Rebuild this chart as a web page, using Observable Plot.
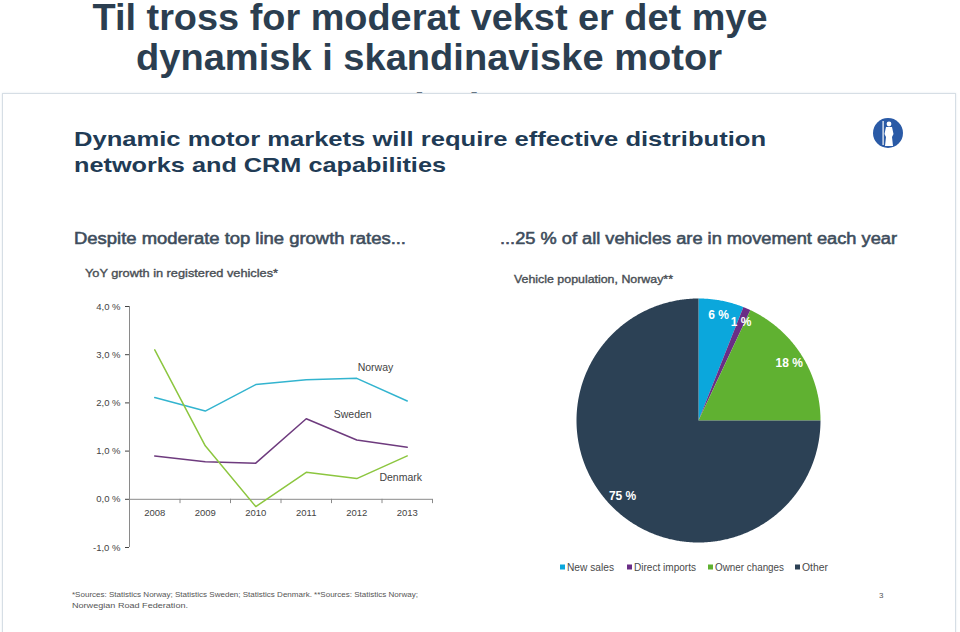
<!DOCTYPE html>
<html>
<head>
<meta charset="utf-8">
<script src="https://cdn.jsdelivr.net/npm/d3@7"></script>
<script src="https://cdn.jsdelivr.net/npm/@observablehq/plot@0.6"></script>
<style>
  html, body { margin: 0; padding: 0; background: #fff; }
  body { width: 960px; height: 632px; position: relative; overflow: hidden; font-family: "Liberation Sans", Arial, sans-serif; }
  .abs { position: absolute; }
  #titles { left: 0; top: 0; z-index: 0; }
  #slide { left: 2px; top: 93px; width: 952px; height: 545px; background: #fff; border: 1px solid #d6dee5; box-shadow: 0 0 2px #e3eaef; z-index: 1; }
  #overlay { left: 0; top: 0; z-index: 2; pointer-events: none; }
  #lineChart { left: 60px; top: 290px; z-index: 3; }
  #pieChart { left: 560px; top: 290px; z-index: 3; }
</style>
</head>
<body>
<div id="titles" class="abs"></div>
<div id="slide" class="abs"></div>
<div id="overlay" class="abs"></div>
<div id="lineChart" class="abs"></div>
<div id="pieChart" class="abs"></div>
<script>
// ---------- data ----------
const years = [2008, 2009, 2010, 2011, 2012, 2013];
const norway = [2.11, 1.83, 2.38, 2.48, 2.51, 2.04];
const sweden = [0.90, 0.78, 0.75, 1.67, 1.23, 1.08];
const denmark = [3.10, 1.11, -0.15, 0.56, 0.43, 0.90];
const countries = ["Norway", "Sweden", "Denmark"];
const countryColors = ["#33b4cf", "#6e3b7e", "#8cc63f"];
const yTicks = [-1, 0, 1, 2, 3, 4];
const labelYears = [2012.37, 2011.92, 2012.87];
const labelValues = [2.73, 1.76, 0.45];

const pieNames = ["New sales", "Direct imports", "Owner changes", "Other"];
const pieShares = [6, 1, 18, 75];
const pieColors = ["#0ba7dc", "#6a2d86", "#60b131", "#2c4155"];

const titleLines = ["Til tross for moderat vekst er det mye", "dynamisk i skandinaviske motor", "markeder"];
const headerLines = ["Dynamic motor markets will require effective distribution", "networks and CRM capabilities"];
const leftHeading = "Despite moderate top line growth rates...";
const rightHeading = "...25 % of all vehicles are in movement each year";
const leftSub = "YoY growth in registered vehicles*";
const rightSub = "Vehicle population, Norway**";
const footLines = ["*Sources: Statistics Norway; Statistics Sweden; Statistics Denmark. **Sources: Statistics Norway;", "Norwegian Road Federation."];
const pageNumber = "3";

// ---------- titles (behind the slide) ----------
const NS = "http://www.w3.org/2000/svg";
function svgEl(tag, attrs, parent) {
  const e = document.createElementNS(NS, tag);
  for (const k in attrs) e.setAttribute(k, attrs[k]);
  if (parent) parent.appendChild(e);
  return e;
}
function addText(parent, str, attrs) {
  const t = svgEl("text", attrs, parent);
  t.textContent = str;
  return t;
}
const tsvg = svgEl("svg", {width: 960, height: 125});
document.getElementById("titles").appendChild(tsvg);
const titleStyle = {"font-family": "Liberation Sans, Arial, sans-serif", "font-weight": "bold", "font-size": 37, fill: "#2b3e50", "text-anchor": "middle"};
addText(tsvg, titleLines[0], {...titleStyle, x: 430, y: 30, textLength: 675, lengthAdjust: "spacingAndGlyphs"});
addText(tsvg, titleLines[1], {...titleStyle, x: 429, y: 70, textLength: 586, lengthAdjust: "spacingAndGlyphs"});
addText(tsvg, titleLines[2], {...titleStyle, x: 430, y: 119, textLength: 170, lengthAdjust: "spacingAndGlyphs"});

// ---------- slide overlay text ----------
const osvg = svgEl("svg", {width: 960, height: 632});
document.getElementById("overlay").appendChild(osvg);
const ff = "Liberation Sans, Arial, sans-serif";
const hdr = {"font-family": ff, "font-weight": "bold", "font-size": 21, fill: "#213b55", lengthAdjust: "spacingAndGlyphs"};
addText(osvg, headerLines[0], {...hdr, x: 74, y: 146, textLength: 692});
addText(osvg, headerLines[1], {...hdr, x: 74, y: 172, textLength: 372});
const sub = {"font-family": ff, "font-size": 16, fill: "#3e4d5c", stroke: "#3e4d5c", "stroke-width": 0.55, lengthAdjust: "spacingAndGlyphs"};
addText(osvg, leftHeading, {...sub, x: 74, y: 244, textLength: 332});
addText(osvg, rightHeading, {...sub, x: 500, y: 244, textLength: 397});
const small = {"font-family": ff, "font-size": 10.5, fill: "#4a4f55", stroke: "#4a4f55", "stroke-width": 0.35, lengthAdjust: "spacingAndGlyphs"};
addText(osvg, leftSub, {...small, x: 85, y: 277, textLength: 193});
addText(osvg, rightSub, {...small, x: 514, y: 283, textLength: 159});
addText(osvg, footLines[0], {x: 72, y: 597, "font-family": ff, "font-size": 7.5, fill: "#555", textLength: 346, lengthAdjust: "spacingAndGlyphs"});
addText(osvg, footLines[1], {x: 72, y: 608, "font-family": ff, "font-size": 7.5, fill: "#555", textLength: 116, lengthAdjust: "spacingAndGlyphs"});
addText(osvg, pageNumber, {x: 879, y: 598, "font-family": ff, "font-size": 8, fill: "#555"});

// legend for the pie
const legendX = [560, 627, 708, 795];
const legendW = [47, 62, 69, 26];
pieNames.forEach((n, i) => {
  svgEl("rect", {x: legendX[i], y: 564.5, width: 5, height: 5, fill: pieColors[i]}, osvg);
  addText(osvg, n, {x: legendX[i] + 7, y: 570.5, "font-family": ff, "font-size": 10, fill: "#4a4a4a", textLength: legendW[i], lengthAdjust: "spacingAndGlyphs"});
});

// logo
svgEl("circle", {cx: 888, cy: 133, r: 15, fill: "#2a5aa6"}, osvg);
const fig = svgEl("g", {fill: "#fff"}, osvg);
svgEl("circle", {cx: 889, cy: 124, r: 2.4}, fig);
svgEl("path", {d: "M886 127 L892 127 L893.5 134 L892 137 L893 146 L885 146 L886 137 L884.5 134 Z"}, fig);
svgEl("rect", {x: 882.5, y: 121, width: 1.2, height: 24}, fig);

// ---------- line chart ----------
const series = [norway, sweden, denmark];
const lineData = countries.flatMap((c, i) => years.map((yr, j) => ({country: c, year: yr, value: series[i][j]})));
const categoryBreaks = years.map(y => y - 0.5).concat([years[years.length - 1] + 0.5]);
const seriesLabels = countries.map((c, i) => ({country: c, year: labelYears[i], value: labelValues[i]}));

const lineChart = Plot.plot({
  width: 392,
  height: 277,
  marginLeft: 69,
  marginRight: 20,
  marginTop: 16,
  marginBottom: 20,
  style: {fontFamily: ff, fontSize: "9.5px", color: "#444", background: "transparent"},
  x: {domain: [2007.5, 2013.5], axis: null},
  y: {domain: [-1, 4], ticks: yTicks, tickFormat: d => d.toFixed(1).replace(".", ",") + " %", tickSize: 4, label: null},
  color: {domain: countries, range: countryColors},
  marks: [
    Plot.ruleX([categoryBreaks[0]], {stroke: "#8a8a8a"}),
    Plot.ruleY([0], {stroke: "#8a8a8a"}),
    Plot.ruleX(categoryBreaks, {y1: 0, y2: -0.09, stroke: "#8a8a8a"}),
    Plot.line(lineData, {x: "year", y: "value", z: "country", stroke: "country", strokeWidth: 1.5}),
    Plot.text(years, {x: d => d, y: 0, dy: 14, text: d => String(d), fontSize: 9.5, fill: "#444"}),
    Plot.text(seriesLabels, {x: "year", y: "value", text: "country", fontSize: 10.5, fill: "#444"})
  ]
});
document.getElementById("lineChart").appendChild(lineChart);

// ---------- pie chart ----------
let cum = 0;
const slices = pieNames.map((name, i) => {
  const a0 = cum / 100 * 2 * Math.PI;
  cum += pieShares[i];
  const a1 = cum / 100 * 2 * Math.PI;
  return {name, share: pieShares[i], a0, a1, mid: (a0 + a1) / 2};
});
const piePoints = slices.flatMap(s => {
  const n = Math.max(2, Math.ceil((s.a1 - s.a0) / (Math.PI / 360)));
  const pts = [{name: s.name, x: 0, y: 0}];
  for (let k = 0; k <= n; k++) {
    const a = s.a0 + (s.a1 - s.a0) * k / n;
    pts.push({name: s.name, x: Math.sin(a), y: Math.cos(a)});
  }
  pts.push({name: s.name, x: 0, y: 0});
  return pts;
});

const pieChart = Plot.plot({
  width: 276,
  height: 260,
  marginLeft: 16,
  marginRight: 16,
  marginTop: 8,
  marginBottom: 8,
  style: {fontFamily: ff, background: "transparent"},
  x: {domain: [-1, 1], axis: null},
  y: {domain: [-1, 1], axis: null},
  color: {domain: pieNames, range: pieColors},
  marks: [
    Plot.line(piePoints, {x: "x", y: "y", z: "name", fill: "name", stroke: "none", curve: "linear"}),
    Plot.text(slices, {x: d => 0.88 * Math.sin(d.mid), y: d => 0.88 * Math.cos(d.mid), text: d => d.share + " %", fill: "white", fontWeight: "bold", fontSize: 12})
  ]
});
document.getElementById("pieChart").appendChild(pieChart);
</script>
</body>
</html>
